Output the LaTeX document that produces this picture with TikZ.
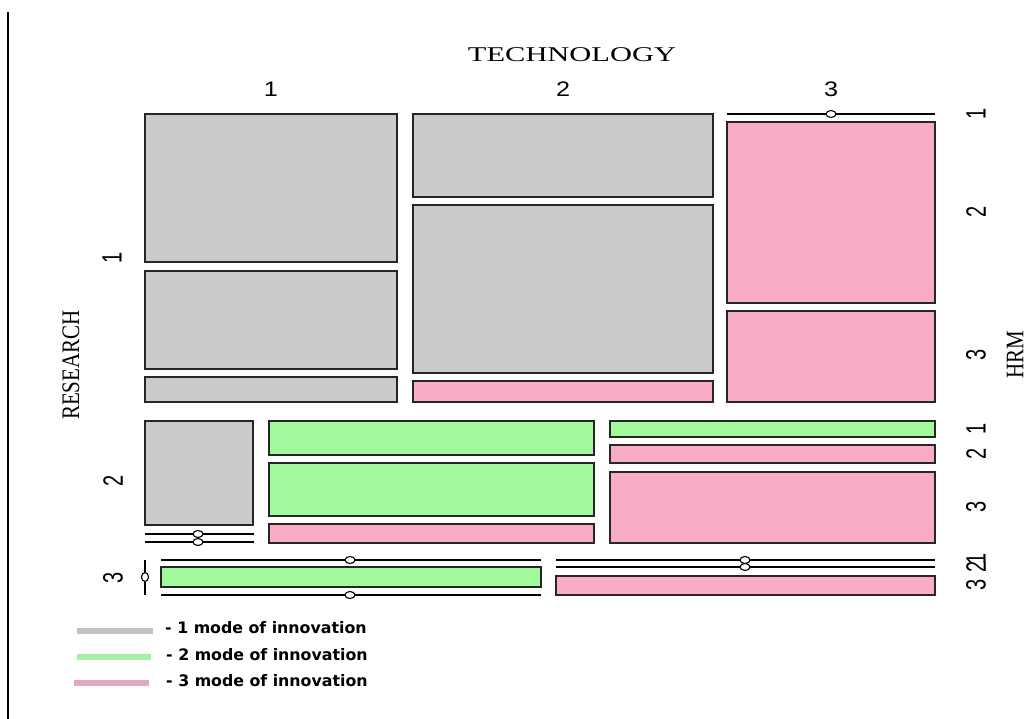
\documentclass[tikz,border=0pt]{standalone}
\usepackage{fontspec}
\setmainfont{Liberation Serif}
\newfontfamily\arialf{Liberation Sans}
\newfontfamily\legf{DejaVu Sans}
\definecolor{cgray}{HTML}{CBCBCB}
\definecolor{cgreen}{HTML}{A2FA9C}
\definecolor{cpink}{HTML}{F9ACC6}
\definecolor{cline}{HTML}{262626}
\definecolor{lgray}{HTML}{C2C2C4}
\definecolor{lgreen}{HTML}{A6EFA6}
\definecolor{lpink}{HTML}{E3A9C2}
\newcommand\mcell[5]{\draw[#1] (#2,#3) rectangle (#4,#5);}
\newcommand\zcirc[2]{\draw[zline,fill=white] (#1,#2) ellipse [x radius=5, y radius=3.5];}
\begin{document}
\begin{tikzpicture}[x=1pt,y=-1pt,
  gcell/.style={fill=cgray,draw=cline,line width=1.3pt},
  ecell/.style={fill=cgreen,draw=cline,line width=1.3pt},
  pcell/.style={fill=cpink,draw=cline,line width=1.3pt},
  zline/.style={draw=black,line width=1.1pt},
  axtitle/.style={font=\fontsize{21}{21}\selectfont,inner sep=0pt},
  topnum/.style={font=\arialf\fontsize{21}{21}\selectfont,inner sep=0pt,xscale=1.2},
  sidenum/.style={font=\arialf\fontsize{20}{20}\selectfont,inner sep=0pt,xscale=1.4,rotate=90},
  legtext/.style={font=\legf\bfseries\fontsize{15.8}{15.8}\selectfont,anchor=west,inner sep=0pt},
  legline/.style={line width=6pt}]
\useasboundingbox (0,0) rectangle (1032,719);
\fill[white] (0,0) rectangle (1032,719);
% left border
\draw[line width=1.2pt] (8,12) -- (8,719);

% ---- RESEARCH = 1 ----
% TECH 1
\mcell{gcell}{145}{114}{397}{262}
\mcell{gcell}{145}{271}{397}{369}
\mcell{gcell}{145}{377}{397}{402}
% TECH 2
\mcell{gcell}{413}{114}{713}{197}
\mcell{gcell}{413}{205}{713}{373}
\mcell{pcell}{413}{381}{713}{402}
% TECH 3
\draw[zline] (727,114) -- (935,114);
\zcirc{831}{114}
\mcell{pcell}{727}{122}{935}{303}
\mcell{pcell}{727}{311}{935}{402}

% ---- RESEARCH = 2 ----
% TECH 1
\mcell{gcell}{145}{421}{253}{525}
\draw[zline] (145,534) -- (254,534);
\draw[zline] (145,542) -- (254,542);
\zcirc{198}{534}
\zcirc{198}{542}
% TECH 2
\mcell{ecell}{269}{421}{594}{455}
\mcell{ecell}{269}{463}{594}{516}
\mcell{pcell}{269}{524}{594}{543}
% TECH 3
\mcell{ecell}{610}{421}{935}{437}
\mcell{pcell}{610}{445}{935}{463}
\mcell{pcell}{610}{472}{935}{543}

% ---- RESEARCH = 3 ----
% TECH 1 (empty)
\draw[zline] (145,560) -- (145,595);
\draw[zline,fill=white] (145,577) ellipse [x radius=3.5, y radius=4.5];
% TECH 2
\draw[zline] (161,560) -- (541,560);
\zcirc{350}{560}
\mcell{ecell}{161}{567}{541}{587}
\draw[zline] (161,595) -- (541,595);
\zcirc{350}{595}
% TECH 3
\draw[zline] (556,560) -- (935,560);
\draw[zline] (556,567) -- (935,567);
\zcirc{745}{560}
\zcirc{745}{567}
\mcell{pcell}{556}{576}{935}{595}

% ---- labels ----
\node[axtitle,xscale=1.45] (tech) at (572,55) {TECHNOLOGY};
\node[topnum] (t1) at (271,89) {1};
\node[topnum] (t2) at (563,89) {2};
\node[topnum] (t3) at (831,89) {3};

\node[axtitle,xscale=1.2,rotate=90] (res) at (71,365) {RESEARCH};
\node[sidenum] (r1) at (112,258) {1};
\node[sidenum] (r2) at (113,481) {2};
\node[sidenum] (r3) at (113,578) {3};

\node[axtitle,xscale=1.2,rotate=90] (hrm) at (1015,355) {HRM};
\node[sidenum] (h11) at (976,114) {1};
\node[sidenum] (h12) at (976,212) {2};
\node[sidenum] (h13) at (976,355) {3};
\node[sidenum] (h21) at (976,429) {1};
\node[sidenum] (h22) at (976,454) {2};
\node[sidenum] (h23) at (976,507) {3};
\node[sidenum] (h31) at (976,559) {1};
\node[sidenum] (h32) at (976,567) {2};
\node[sidenum] (h33) at (976,585) {3};

% ---- legend ----
\draw[legline,lgray] (77,631) -- (153,631);
\draw[legline,lgreen] (77,657) -- (151,657);
\draw[legline,lpink] (74,683) -- (149,683);
\node[legtext] (l1) at (165,628) {- 1 mode of innovation};
\node[legtext] (l2) at (166,655) {- 2 mode of innovation};
\node[legtext] (l3) at (166,681) {- 3 mode of innovation};
\end{tikzpicture}
\end{document}
